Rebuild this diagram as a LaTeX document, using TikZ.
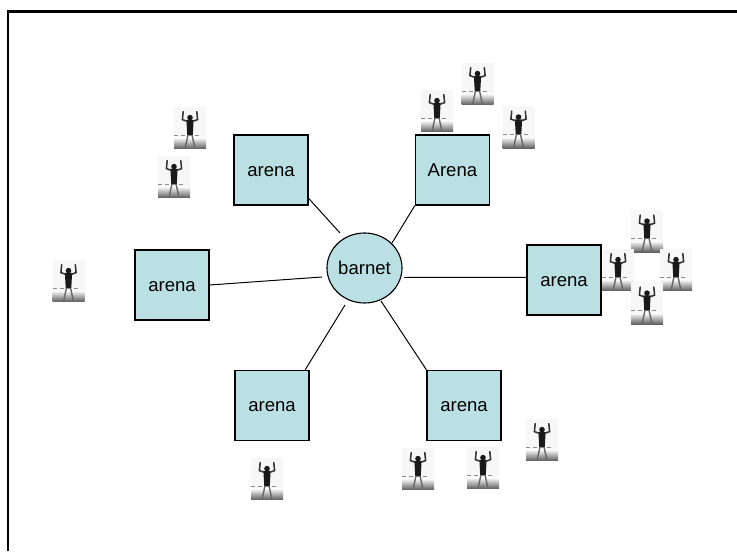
\documentclass[tikz,border=0pt]{standalone}
\usepackage{fontspec}
\setmainfont{Liberation Sans}
\usetikzlibrary{shapes.geometric}
\definecolor{ArenaColor}{HTML}{BBE0E3}
\tikzstyle{arena_box}=[rectangle,
                       minimum height=1.75cm,
                       minimum width=1.85cm,
                       text height=0.33cm,
                       text depth=0cm,
                       draw=black,
                       line width=0.8pt,
                       fill=ArenaColor,
                       font=\fontsize{13.2}{15}\selectfont]
\tikzstyle{barnet_node}=[ellipse,
                         minimum height=1.75cm,
                         minimum width=1.875cm,
                         inner sep=0pt,
                         draw=black,
                         line width=0.8pt,
                         fill=ArenaColor,
                         font=\fontsize{13.2}{15}\selectfont]
\tikzstyle{link}=[draw=black, line width=0.7pt]
\tikzset{
    person/.pic={
        \fill[black!3] (-0.4cm,-0.525cm) rectangle (0.4cm,0.525cm);
        \shade[top color=black!3, bottom color=black!65] (-0.4cm,-0.525cm) rectangle (0.4cm,-0.25cm);
        \draw[black!45, line width=0.4pt, densely dashed] (-0.4cm,-0.17cm) -- (0.3cm,-0.17cm);
        \fill[black!90] (-0.09cm,0.2cm) -- (0.09cm,0.2cm) -- (0.07cm,-0.17cm) -- (-0.07cm,-0.17cm) -- cycle;
        \fill[black!90] (0,0.26cm) circle (0.07cm);
        \draw[black!80, line width=1.1pt, line cap=round] (-0.08cm,0.17cm) -- (-0.19cm,0.21cm) -- (-0.17cm,0.41cm);
        \draw[black!80, line width=1.1pt, line cap=round] (0.08cm,0.17cm) -- (0.19cm,0.21cm) -- (0.17cm,0.41cm);
        \draw[black!60, line width=1pt] (-0.05cm,-0.17cm) -- (-0.12cm,-0.49cm);
        \draw[black!60, line width=1pt] (0.05cm,-0.17cm) -- (0.12cm,-0.49cm);
    }
}

\begin{document}
\begin{tikzpicture}
    \useasboundingbox (0cm, 0cm) rectangle (18.425cm, 13.775cm);
    % ---------------------------------------------------------------------------------------------------------
    %  frame, open at the right and at the bottom
    \coordinate (frame-bl) at (0.2cm, 0cm);
    \coordinate (frame-tl) at (0.2cm, 13.49cm);
    \coordinate (frame-tr) at (18.425cm, 13.49cm);
    \draw[line width=1.7pt] (frame-bl) -- (frame-tl) -- (frame-tr);

    % ---------------------------------------------------------------------------------------------------------
    \node at (9.1125cm, 7.075cm) (barnet) [barnet_node] {barnet};

    \node at (6.775cm, 9.525cm) (A0) [arena_box] {arena};
    \node at (11.31cm, 9.525cm) (A1) [arena_box] {Arena};
    \node at (14.1cm, 6.775cm) (A2) [arena_box] {arena};
    \node at (4.3cm, 6.65cm) (A3) [arena_box] {arena};
    \node at (6.8cm, 3.64cm) (A4) [arena_box] {arena};
    \node at (11.6cm, 3.64cm) (A5) [arena_box] {arena};

    \coordinate (B0) at (8.5cm, 7.95cm);
    \coordinate (B1) at (9.8cm, 7.7cm);
    \coordinate (B2) at (10.1cm, 6.8375cm);
    \coordinate (B3) at (8.05cm, 6.85cm);
    \coordinate (B4) at (8.625cm, 6.15cm);
    \coordinate (B5) at (9.525cm, 6.25cm);

    \draw[link] (A0.-37) -- (B0);
    \draw[link] (A1.south west) -- (B1);
    \draw[link] (A2.176) -- (B2);
    \draw[link] (A3.east) -- (B3);
    \draw[link] (A4.47) -- (B4);
    \draw[link] (A5.north west) -- (B5);

    % ---------------------------------------------------------------------------------------------------------
    \foreach \lx/\ly in {4.75/10.575, 4.35/9.35, 1.7125/6.75,
                         10.925/11, 11.9375/11.675, 12.9625/10.5875,
                         16.175/7.9875, 15.45/7.025, 16.9/7.025, 16.175/6.1875,
                         6.675/1.8, 10.45/2.05, 12.075/2.075, 13.55/2.775} {
        \pic at (\lx cm, \ly cm) {person};
    }
\end{tikzpicture}
\end{document}
